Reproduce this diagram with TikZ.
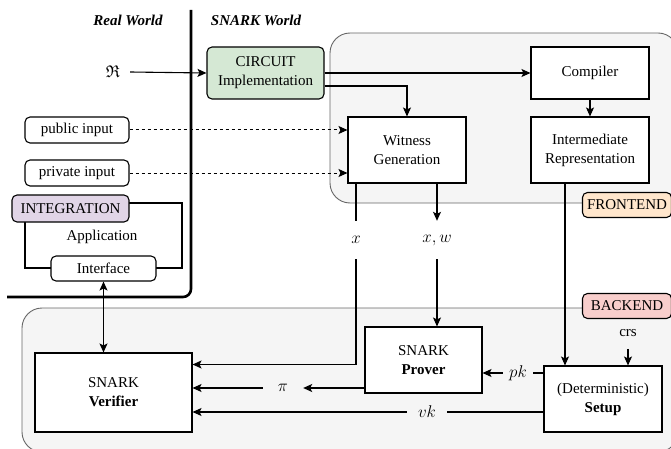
\documentclass[tikz,border=0pt]{standalone}
\usepackage{fix-cm}
\usepackage{amssymb}
\usepackage{fontspec}
\setmainfont{Liberation Serif}
\usetikzlibrary{arrows.meta}

\definecolor{groupfill}{HTML}{F5F5F5}
\definecolor{groupline}{HTML}{666666}
\definecolor{circuitgreen}{HTML}{D5E8D4}
\definecolor{frontorange}{HTML}{FFE6CC}
\definecolor{backred}{HTML}{F8CECC}
\definecolor{integpurple}{HTML}{E1D5E7}

\tikzset{
	box/.style={draw, line width=1.1pt, fill=white, align=center, inner sep=0pt, font=\fontsize{15}{19}\selectfont},
	rbox/.style={box, rounded corners=5pt},
	tag/.style={rbox, minimum width=89pt, minimum height=25pt},
	group/.style={draw=groupline, fill=groupfill, line width=0.9pt, rounded corners=20pt},
	lbl/.style={inner sep=0pt, font=\fontsize{15}{19}\selectfont},
	mlbl/.style={inner sep=0pt, font=\fontsize{17}{19}\selectfont},
	arr/.style={line width=1.1pt, -{Stealth[length=9pt,width=8pt,inset=2pt]}},
	plain/.style={line width=1.1pt}
}

\begin{document}
\begin{tikzpicture}[x=1pt,y=-1pt]
	\useasboundingbox (0,0) rectangle (671,449);
	
	% groups
	\draw[group] (330,33) rectangle (678,203);
	\draw[group] (22,308) rectangle (678,452);
	
	% worlds
	\node[lbl, font=\fontsize{15}{19}\selectfont\bfseries\itshape] (realw) at (128,20) {Real World};
	\node[lbl, font=\fontsize{15}{19}\selectfont\bfseries\itshape] (snarkw) at (256,20) {SNARK World};
	\draw[line width=2.6pt, rounded corners=8pt] (191,10) -- (191,297) -- (7,297);
	
	% frontend
	\node[rbox, fill=circuitgreen, minimum width=117pt, minimum height=52pt] (circuit) at (265.5,73) {CIRCUIT\\Implementation};
	\node[box, minimum width=118pt, minimum height=52pt] (compiler) at (590,73) {Compiler};
	\node[box, minimum width=118pt, minimum height=66pt] (ir) at (590,150) {Intermediate\\Representation};
	\node[box, minimum width=118pt, minimum height=66pt] (witness) at (407,150) {Witness\\Generation};
	\node[tag, fill=frontorange] (frontend) at (627,205) {FRONTEND};
	
	% real world
	\node[mlbl] (rel) at (113,72) {$\mathfrak{R}$};
	\node[rbox, minimum width=104pt, minimum height=26pt] (pub) at (77,130) {public input};
	\node[rbox, minimum width=104pt, minimum height=26pt] (priv) at (77,173) {private input};
	\draw[plain] (25,203) rectangle (182,268);
	\node[lbl] (app) at (102,237) {Application};
	\node[rbox, fill=integpurple, minimum width=117pt, minimum height=27pt] (integ) at (70.5,208.5) {INTEGRATION};
	\node[rbox, minimum width=105pt, minimum height=25pt] (iface) at (103.5,268.5) {Interface};
	
	% backend
	\node[tag, fill=backred] (backend) at (627,306) {BACKEND};
	\node[box, minimum width=157pt, minimum height=79pt] (verifier) at (113.5,392.5) {SNARK\\\textbf{Verifier}};
	\node[box, minimum width=117pt, minimum height=66pt] (prover) at (423.5,360) {SNARK\\\textbf{Prover}};
	\node[box, minimum width=118pt, minimum height=66pt] (setup) at (603,399) {(Deterministic)\\\textbf{Setup}};
	\node[lbl] (crs) at (628,333) {crs};
	
	% edge labels
	\node[mlbl, minimum height=38pt] (xlab) at (356,240) {$x$};
	\node[mlbl, minimum height=38pt] (xwlab) at (437,240) {$x,w$};
	\node[mlbl, minimum width=40pt] (pilab) at (283,388) {$\pi$};
	\node[mlbl, minimum width=30pt] (pklab) at (518,373) {$pk$};
	\node[mlbl, minimum width=40pt] (vklab) at (427,412) {$vk$};
	
	% connectors
	\draw[arr] ([xshift=10pt]rel.east) -- (circuit.west);
	\draw[arr] (circuit.east) -- (compiler.west);
	\draw[arr] ([yshift=-13pt]circuit.east) -| (witness.north);
	\draw[arr] (compiler.south) -- (ir.south |- ir.north);
	\draw[arr, dash pattern=on 3pt off 3pt, line width=1pt] (pub.east) -- (pub.east -| witness.west);
	\draw[arr, dash pattern=on 3pt off 3pt, line width=1pt] (priv.east) -- (priv.east -| witness.west);
	\draw[plain] (witness.south -| xlab) -- (xlab.north);
	\draw[arr] (xlab.south) |- ([yshift=28pt]verifier.east);
	\draw[arr] (witness.south -| xwlab) -- (xwlab.north);
	\draw[arr] (xwlab.south) -- (prover.north -| xwlab);
	\draw[arr] ([xshift=-25pt]ir.south) -- ([xshift=-25pt]ir.south |- setup.north);
	\draw[arr] ([yshift=-12pt]crs.south) -- (crs.south |- setup.north);
	\draw[plain] ([yshift=26pt]setup.west) -- (pklab.east);
	\draw[arr] (pklab.west) -- (pklab.west -| prover.east);
	\draw[arr] (pilab.east -| prover.west) -- (pilab.east);
	\draw[arr] (pilab.west) -- (pilab.west -| verifier.east);
	\draw[plain] ([yshift=-13pt]setup.west) -- (vklab.east);
	\draw[arr] (vklab.west) -- (vklab.west -| verifier.east);
	\draw[line width=1.1pt, {Stealth[length=9pt,width=8pt,inset=2pt]}-{Stealth[length=9pt,width=8pt,inset=2pt]}] (iface.south) -- (iface.south |- verifier.north);
\end{tikzpicture}
\end{document}
